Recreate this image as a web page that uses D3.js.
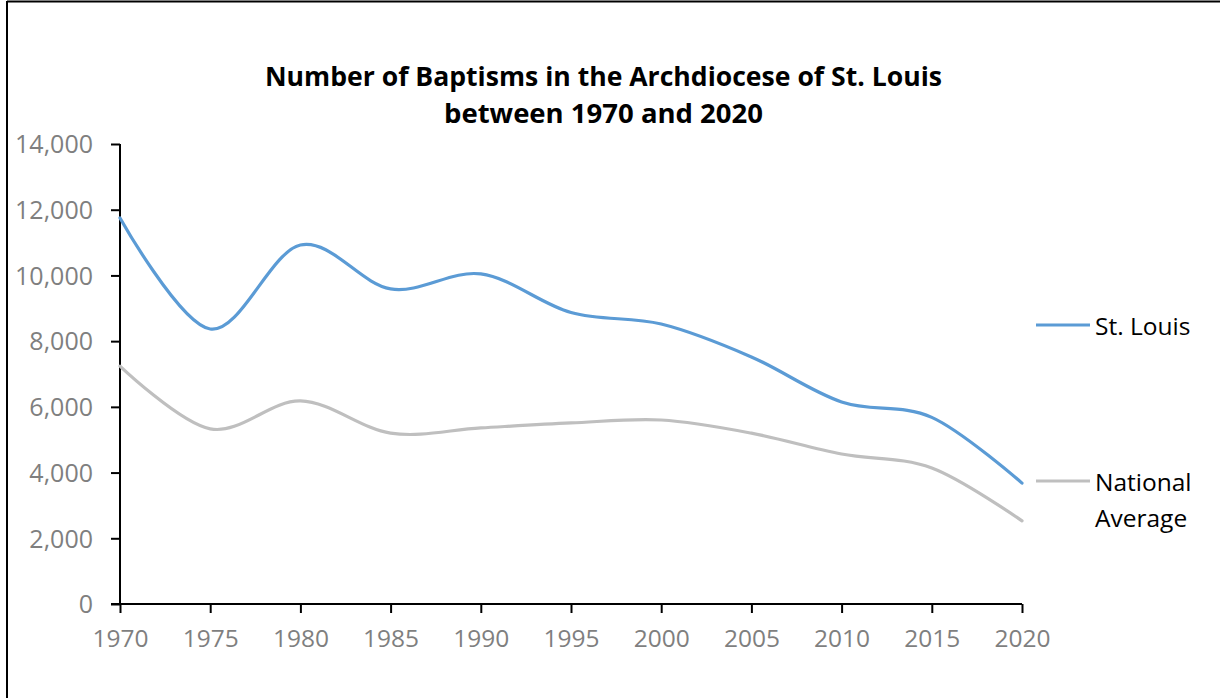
<!DOCTYPE html>
<html><head><meta charset="utf-8">
<script src="https://cdn.jsdelivr.net/npm/d3@7"></script>
<style>body{margin:0;background:#fff;}svg{display:block;}</style>
</head><body>
<svg id="chart" width="1220" height="698"></svg>
<script>
const years = [1970,1975,1980,1985,1990,1995,2000,2005,2010,2015,2020];
const stLouis = [11750,8370,10925,9590,10045,8870,8520,7520,6150,5680,3680];
const national = [7240,5330,6180,5200,5360,5510,5600,5200,4565,4140,2530];
const yTicks = [0,2000,4000,6000,8000,10000,12000,14000];
const titleLines = ["Number of Baptisms in the Archdiocese of St. Louis","between 1970 and 2020"];
const seriesNames = ["St. Louis","National Average"];
const colors = ["#5b9bd5","#bfbfbf"];

const svg = d3.select("#chart");
const font = "'Open Sans', sans-serif";

// outer border (only top & left visible in the crop)
svg.append("line").attr("x1",7).attr("x2",1220).attr("y1",1.5).attr("y2",1.5).attr("stroke","#000").attr("stroke-width",2);
svg.append("line").attr("x1",7).attr("x2",7).attr("y1",1).attr("y2",698).attr("stroke","#000").attr("stroke-width",2);

const x = d3.scaleLinear().domain([1970,2020]).range([120,1022]);
const y = d3.scaleLinear().domain([0,14000]).range([604,144]);

// title
svg.append("text").attr("x",603.5).attr("y",86).attr("text-anchor","middle")
  .attr("font-family",font).attr("font-weight","bold").attr("font-size",27)
  .attr("textLength",677).attr("lengthAdjust","spacingAndGlyphs").attr("fill","#000").text(titleLines[0]);
svg.append("text").attr("x",603.5).attr("y",123).attr("text-anchor","middle")
  .attr("font-family",font).attr("font-weight","bold").attr("font-size",27)
  .attr("textLength",319).attr("lengthAdjust","spacingAndGlyphs").attr("fill","#000").text(titleLines[1]);

// y axis
const yAxis = d3.axisLeft(y).tickValues(yTicks).tickFormat(d3.format(",")).tickSize(9).tickPadding(18);
const gy = svg.append("g").attr("transform","translate(120,0)").call(yAxis);
gy.select(".domain").attr("stroke","#000").attr("stroke-width",2).attr("d","M0,144V604");
gy.selectAll(".tick line").attr("stroke","#000").attr("stroke-width",2);
gy.selectAll(".tick text").attr("font-family",font).attr("font-size",25).attr("fill","#7f7f7f").attr("dy","0.35em")
  .attr("transform","scale(1,1.08)").attr("y",null).each(function(){
    const t=d3.select(this); t.attr("transform",null);
  });

// x axis
const xAxis = d3.axisBottom(x).tickValues(years).tickFormat(d3.format("d")).tickSize(9).tickPadding(17);
const gx = svg.append("g").attr("transform","translate(0,604)").call(xAxis);
gx.select(".domain").attr("stroke","#000").attr("stroke-width",2).attr("d","M111,0H1022");
gx.selectAll(".tick line").attr("stroke","#000").attr("stroke-width",2);
gx.selectAll(".tick text").attr("font-family",font).attr("font-size",24.5).attr("fill","#7f7f7f");

// lines
const line = d3.line().x((d,i)=>x(years[i])).y(d=>y(d)).curve(d3.curveCardinal.tension(0));
[stLouis,national].forEach((s,i)=>{
  svg.append("path").datum(s).attr("d",line).attr("fill","none")
    .attr("stroke",colors[i]).attr("stroke-width",3.2).attr("stroke-linecap","round");
});

// legend
const leg = [{y:325, lines:["St. Louis"]},{y:481, lines:["National","Average"]}];
leg.forEach((l,i)=>{
  svg.append("line").attr("x1",1036).attr("x2",1090).attr("y1",l.y).attr("y2",l.y)
    .attr("stroke",colors[i]).attr("stroke-width",3.2);
  l.lines.forEach((t,j)=>{
    svg.append("text").attr("x",1095).attr("y",l.y+10+j*36).attr("font-family",font)
      .attr("font-size",24.5).attr("fill","#000").text(t);
  });
});
</script>
</body></html>
